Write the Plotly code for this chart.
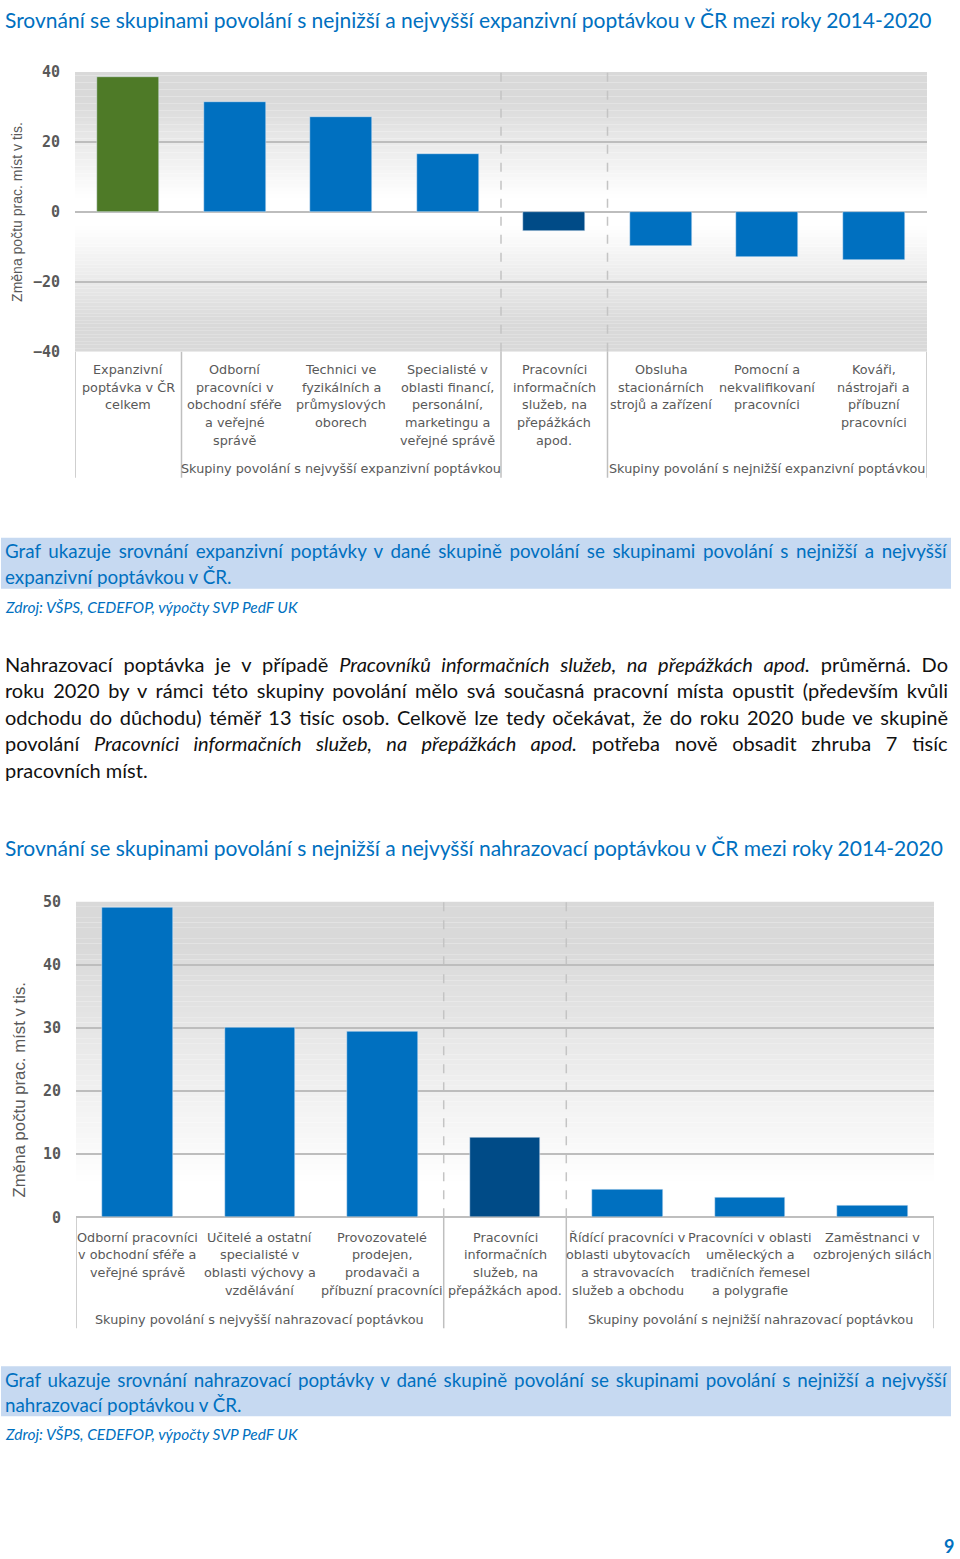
import json
import re
import plotly.graph_objects as go

W, H = 960, 1559

# ---------------- data ----------------
exp_label_lines = [
    ["Expanzivní", "poptávka v ČR", "celkem"],
    ["Odborní", "pracovníci v", "obchodní sféře", "a veřejné", "správě"],
    ["Technici ve", "fyzikálních a", "průmyslových", "oborech"],
    ["Specialisté v", "oblasti financí,", "personální,", "marketingu a", "veřejné správě"],
    ["Pracovníci", "informačních", "služeb, na", "přepážkách", "apod."],
    ["Obsluha", "stacionárních", "strojů a zařízení"],
    ["Pomocní a", "nekvalifikovaní", "pracovníci"],
    ["Kováři,", "nástrojaři a", "příbuzní", "pracovníci"],
]
exp_categories = [" ".join(l) for l in exp_label_lines]
exp_values = [38.6, 31.4, 27.0, 16.6, -5.5, -9.7, -12.8, -13.7]
exp_groups = ["Skupiny povolání s nejvyšší expanzivní poptávkou",
              "Skupiny povolání s nejnižší expanzivní poptávkou"]
exp_ticks = [-40, -20, 0, 20, 40]

rep_label_lines = [
    ["Odborní pracovníci", "v obchodní sféře a", "veřejné správě"],
    ["Učitelé a ostatní", "specialisté v", "oblasti výchovy a", "vzdělávání"],
    ["Provozovatelé", "prodejen,", "prodavači a", "příbuzní pracovníci"],
    ["Pracovníci", "informačních", "služeb, na", "přepážkách apod."],
    ["Řídící pracovníci v", "oblasti ubytovacích", "a stravovacích", "služeb a obchodu"],
    ["Pracovníci v oblasti", "uměleckých a", "tradičních řemesel", "a polygrafie"],
    ["Zaměstnanci v", "ozbrojených silách"],
]
rep_categories = [" ".join(l) for l in rep_label_lines]
rep_values = [49.1, 30.1, 29.4, 12.6, 4.4, 3.1, 1.95]
rep_groups = ["Skupiny povolání s nejvyšší nahrazovací poptávkou",
              "Skupiny povolání s nejnižší nahrazovací poptávkou"]
rep_ticks = [0, 10, 20, 30, 40, 50]

title1 = "Srovnání se skupinami povolání s nejnižší a nejvyšší expanzivní poptávkou v ČR mezi roky 2014-2020"
title2 = "Srovnání se skupinami povolání s nejnižší a nejvyšší nahrazovací poptávkou v ČR mezi roky 2014-2020"
ytitle = "Změna počtu prac. míst v tis."
caption1 = ["Graf ukazuje srovnání expanzivní poptávky v dané skupině povolání se skupinami povolání s nejnižší a nejvyšší",
            "expanzivní poptávkou v ČR."]
caption2 = ["Graf ukazuje srovnání nahrazovací poptávky v dané skupině povolání se skupinami povolání s nejnižší a nejvyšší",
            "nahrazovací poptávkou v ČR."]
source = "Zdroj: VŠPS, CEDEFOP, výpočty SVP PedF UK"
body = [
    "Nahrazovací poptávka je v případě <i>Pracovníků informačních služeb, na přepážkách apod.</i> průměrná. Do",
    "roku 2020 by v rámci této skupiny povolání mělo svá současná pracovní místa opustit (především kvůli",
    "odchodu do důchodu) téměř 13 tisíc osob. Celkově lze tedy očekávat, že do roku 2020 bude ve skupině",
    "povolání <i>Pracovníci informačních služeb, na přepážkách apod.</i> potřeba nově obsadit zhruba 7 tisíc",
    "pracovních míst.",
]
page_no = "9"

# ---------------- styles ----------------
GREEN, BLUE, DARK = "#4e7a27", "#0070c0", "#004b87"
exp_colors = [GREEN, BLUE, BLUE, BLUE, DARK, BLUE, BLUE, BLUE]
rep_colors = [BLUE, BLUE, BLUE, DARK, BLUE, BLUE, BLUE]
GRID = "#bdbdbd"
LBL = "#595959"
HEAD = "#0070c0"
CALI = "Lato, Liberation Sans, sans-serif"
TAHO = "DejaVu Sans, sans-serif"
MONO = "DejaVu Sans Mono, monospace"
NARROW = "Liberation Sans Narrow, Liberation Sans, sans-serif"

# compensation for the page offset / vertical scaling observed in the photograph
OFF = 9
SC = 0.989
HF = H


def px(x):
    return x / W


def py(y):
    return 1 - ((y - OFF) / SC) / HF


fig = go.Figure()
fig.add_trace(go.Bar(x=exp_categories, y=exp_values, marker_color=exp_colors,
                     width=0.58, xaxis="x", yaxis="y", hoverinfo="x+y"))
fig.add_trace(go.Bar(x=rep_categories, y=rep_values, marker_color=rep_colors,
                     width=0.576, xaxis="x2", yaxis="y2", hoverinfo="x+y"))

# plot areas (pixels)
T_L, T_R, T_T, T_B = 75, 927, 72, 352
B_L, B_R, B_T, B_B = 76, 934, 902, 1218

axis_common = dict(showgrid=False, zeroline=False, showticklabels=False,
                   fixedrange=True, type="category")
yaxis_common = dict(showgrid=True, gridcolor=GRID, gridwidth=1.5, zeroline=True,
                    zerolinecolor=GRID, zerolinewidth=1.5, showline=False,
                    ticks="", tickfont=dict(family=MONO, size=15, color=LBL, weight="bold"),
                    fixedrange=True, ticklabelstandoff=14)

fig.update_layout(
    width=W, height=HF, margin=dict(l=0, r=0, t=0, b=0),
    paper_bgcolor="white", plot_bgcolor="rgba(0,0,0,0)", showlegend=False,
    bargap=0,
    xaxis=dict(domain=[px(T_L), px(T_R)], range=[-0.5, len(exp_values) - 0.5],
               anchor="y", **axis_common),
    yaxis=dict(domain=[py(T_B), py(T_T)], range=[exp_ticks[0], exp_ticks[-1]],
               tickvals=exp_ticks, anchor="x", **yaxis_common),
    xaxis2=dict(domain=[px(B_L), px(B_R)], range=[-0.5, len(rep_values) - 0.5],
                anchor="y2", **axis_common),
    yaxis2=dict(domain=[py(B_B), py(B_T)], range=[rep_ticks[0], rep_ticks[-1]],
                tickvals=rep_ticks, anchor="x2", **yaxis_common),
)

shapes = []
# gradient backgrounds
n = 80
lo, hi = exp_ticks[0], exp_ticks[-1]
for i in range(n):
    y0 = lo + (hi - lo) * i / n
    y1 = lo + (hi - lo) * (i + 1) / n
    m = abs((y0 + y1) / 2)
    t = min(max((m - 4) / 28, 0), 1)
    g = int(round(255 - 38 * t))
    shapes.append(dict(type="rect", xref="x domain", yref="y", x0=0, x1=1, y0=y0, y1=y1,
                       fillcolor=f"rgb({g},{g},{g})", line=dict(width=0), layer="below"))
lo, hi = rep_ticks[0], rep_ticks[-1]
n = 60
for i in range(n):
    y0 = lo + (hi - lo) * i / n
    y1 = lo + (hi - lo) * (i + 1) / n
    m = (y0 + y1) / 2
    t = min(max((m - 5) / 38, 0), 1)
    g = int(round(255 - 38 * t))
    shapes.append(dict(type="rect", xref="x2 domain", yref="y2", x0=0, x1=1, y0=y0, y1=y1,
                       fillcolor=f"rgb({g},{g},{g})", line=dict(width=0), layer="below"))

# dashed separators inside plots
for xv in (3.5, 4.5):
    shapes.append(dict(type="line", xref="x", yref="paper", x0=xv, x1=xv,
                       y0=py(T_B), y1=py(T_T - 4), line=dict(color="#c4c4c4", width=1.5, dash="dash"),
                       layer="below"))
for xv in (2.5, 3.5):
    shapes.append(dict(type="line", xref="x2", yref="paper", x0=xv, x1=xv,
                       y0=py(B_B), y1=py(B_T), line=dict(color="#c4c4c4", width=1.5, dash="dash"),
                       layer="below"))

# category table lines
TBL = "#bfbfbf"
for xv in (-0.5, 0.5, 3.5, 4.5, 7.5):
    shapes.append(dict(type="line", xref="x", yref="paper", x0=xv, x1=xv,
                       y0=py(478), y1=py(T_B), line=dict(color=TBL, width=1.5)))
for xv in (-0.5, 2.5, 3.5, 6.5):
    shapes.append(dict(type="line", xref="x2", yref="paper", x0=xv, x1=xv,
                       y0=py(1329), y1=py(B_B), line=dict(color=TBL, width=1.5)))
shapes.append(dict(type="line", xref="x2", yref="paper", x0=-0.5, x1=6.5,
                   y0=py(B_B), y1=py(B_B), line=dict(color=TBL, width=1.5)))

# caption boxes
for top, bot in ((538, 589), (1367, 1417)):
    shapes.append(dict(type="rect", xref="paper", yref="paper", x0=px(1), x1=px(951),
                       y0=py(bot), y1=py(top), fillcolor="#c6d9f1", line=dict(width=0)))

fig.update_layout(shapes=shapes)

ann = []


def text(t, x, y, size, color, family, xanchor="left", xref="paper", angle=0):
    ann.append(dict(text=t, x=x if xref != "paper" else px(x), y=py(y), xref=xref, yref="paper",
                    xanchor=xanchor, yanchor="middle", showarrow=False, textangle=angle,
                    align=xanchor if xanchor in ("left", "right") else "center",
                    font=dict(size=size, color=color, family=family)))


# headings
text(title1, 3, 20, 21, HEAD, CALI)
text(title2, 3, 848, 21, HEAD, CALI)

# y-axis titles
text(ytitle, 17, 212, 14, LBL, NARROW, xanchor="center", angle=-90)
text(ytitle, 19, 1091, 16.8, LBL, NARROW, xanchor="center", angle=-90)

# category labels
for i, lines in enumerate(exp_label_lines):
    for j, l in enumerate(lines):
        text(l, i, 370 + 17.6 * j, 12.8, LBL, TAHO, xanchor="center", xref="x")
text(exp_groups[0], 2, 469, 12.8, LBL, TAHO, xanchor="center", xref="x")
text(exp_groups[1], 6, 469, 12.8, LBL, TAHO, xanchor="center", xref="x")

for i, lines in enumerate(rep_label_lines):
    for j, l in enumerate(lines):
        text(l, i, 1238 + 17.6 * j, 12.8, LBL, TAHO, xanchor="center", xref="x2")
text(rep_groups[0], 1, 1320, 12.8, LBL, TAHO, xanchor="center", xref="x2")
text(rep_groups[1], 5, 1320, 12.8, LBL, TAHO, xanchor="center", xref="x2")

# captions & sources
for k, l in enumerate(caption1):
    text(l, 3, 551 + 25.5 * k, 18.8, HEAD, CALI)
text("<i>" + source + "</i>", 3, 607, 15.5, HEAD, CALI)
for k, l in enumerate(caption2):
    text(l, 3, 1380 + 25.5 * k, 18.8, HEAD, CALI)
text("<i>" + source + "</i>", 3, 1435, 15.5, HEAD, CALI)

# body paragraph
for k, l in enumerate(body):
    text(l, 3, 664 + 26.5 * k, 20, "#111111", CALI)

# page number
ann.append(dict(text="<b>" + page_no + "</b>", x=px(956), y=py(1547), xref="paper", yref="paper",
                xanchor="right", yanchor="middle", showarrow=False,
                font=dict(size=18, color=HEAD, family=CALI)))

fig.update_layout(annotations=ann)

# lines that are justified (stretched to the right text edge) in the original page
just_lines = [re.sub(r"<[^>]+>", "", s) for s in (caption1[0], caption2[0], *body[:4])]

js = """
document.body.style.margin='0';document.body.style.overflow='hidden';
(function(){
  var J = %s;
  var RIGHT = 948;
  document.querySelectorAll('text.annotation-text').forEach(function(t){
    var s = (t.textContent || '').replace(/\\s+/g, ' ').trim();
    if (J.indexOf(s) < 0) return;
    t.style.wordSpacing = '0px';
    var r = t.getBoundingClientRect();
    var n = (s.match(/ /g) || []).length;
    if (!n) return;
    var extra = (RIGHT - r.right) / n;
    if (extra > 0 && extra < 12) t.style.wordSpacing = extra.toFixed(2) + 'px';
  });
})();
""" % json.dumps(just_lines, ensure_ascii=False)

fig.write_html("out.html", config={"displayModeBar": False}, post_script=js)
